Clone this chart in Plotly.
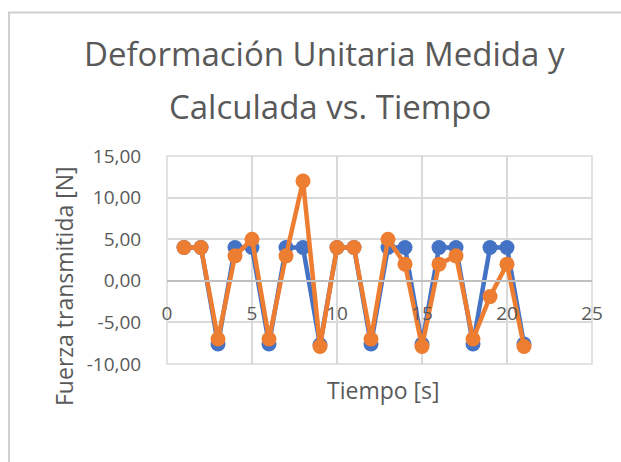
import plotly.graph_objects as go

# Time samples [s]
tiempo = list(range(1, 22))

# Measured and calculated force [N]
medida = [4, 4, -7.6, 4, 4, -7.6, 4, 4, -7.7, 4, 4, -7.6, 4, 4, -7.6, 4, 4, -7.6, 4, 4, -7.6]
calculada = [4, 4, -7, 3, 5, -7, 3, 12, -7.9, 4, 4, -7, 5, 2, -7.9, 2, 3, -7, -1.9, 2, -7.9]

# Axis ticks
x_ticks = [0, 5, 10, 15, 20, 25]
y_ticks = [-10, -5, 0, 5, 10, 15]
y_tick_text = ["-10,00", "-5,00", "0,00", "5,00", "10,00", "15,00"]

FONT = "Open Sans"
GREY = "#595959"
GRID = "#D9D9D9"

# plot-area geometry in pixels (used to place paper-referenced items)
W, H = 621, 462
L, R, T, B = 167, 29, 156, 98
PW, PH = W - L - R, H - T - B


def px(x):
    return (x - L) / PW


def py(y):
    return (H - B - y) / PH


fig = go.Figure()
fig.add_trace(go.Scatter(
    x=tiempo, y=medida, mode="lines+markers", name="Medida",
    line=dict(color="#4472C4", width=4.5),
    marker=dict(color="#4472C4", size=15),
))
fig.add_trace(go.Scatter(
    x=tiempo, y=calculada, mode="lines+markers", name="Calculada",
    line=dict(color="#ED7D31", width=4.5),
    marker=dict(color="#ED7D31", size=15),
))

fig.update_layout(
    width=W, height=H,
    margin=dict(l=L, r=R, t=T, b=B),
    paper_bgcolor="white", plot_bgcolor="white",
    showlegend=False,
    font=dict(family=FONT, color=GREY),
    xaxis=dict(
        range=[0, 25], tickvals=x_ticks,
        showgrid=True, gridcolor=GRID, gridwidth=1.5,
        zeroline=False, showline=True, linecolor="#BFBFBF", linewidth=1.5,
        anchor="free", position=0.4,
        ticks="outside", ticklen=16, tickcolor="rgba(0,0,0,0)",
        tickfont=dict(size=19, color=GREY),
    ),
    yaxis=dict(
        range=[-10, 15], tickvals=y_ticks, ticktext=y_tick_text,
        showgrid=True, gridcolor=GRID, gridwidth=1.5,
        zeroline=False, showline=False,
        ticks="outside", ticklen=21, tickcolor="rgba(0,0,0,0)",
        tickfont=dict(size=19, color=GREY),
    ),
    shapes=[
        # chart area border
        dict(type="rect", xref="paper", yref="paper",
             x0=px(9), x1=px(640), y0=py(480), y1=py(12.5),
             line=dict(color="#D0D0D0", width=2), fillcolor="rgba(0,0,0,0)",
             layer="above"),
        # plot area frame
        dict(type="rect", xref="paper", yref="paper", x0=0, x1=1, y0=0, y1=1,
             line=dict(color=GRID, width=1.5), fillcolor="rgba(0,0,0,0)",
             layer="below"),
    ],
    annotations=[
        dict(text="Deformación Unitaria Medida y", xref="paper", yref="paper",
             x=px(324), y=py(53), xanchor="center", yanchor="middle",
             showarrow=False, font=dict(size=33, color=GREY)),
        dict(text="Calculada vs. Tiempo", xref="paper", yref="paper",
             x=px(330), y=py(107), xanchor="center", yanchor="middle",
             showarrow=False, font=dict(size=33, color=GREY)),
        dict(text="Tiempo [s]", xref="paper", yref="paper",
             x=px(383.5), y=py(390), xanchor="center", yanchor="middle",
             showarrow=False, font=dict(size=23, color=GREY)),
        dict(text="Fuerza transmitida [N]", xref="paper", yref="paper", textangle=-90,
             x=px(64), y=py(286), xanchor="center", yanchor="middle",
             showarrow=False, font=dict(size=23, color=GREY)),
    ],
)

fig.write_html("out.html", config={"displayModeBar": False})
